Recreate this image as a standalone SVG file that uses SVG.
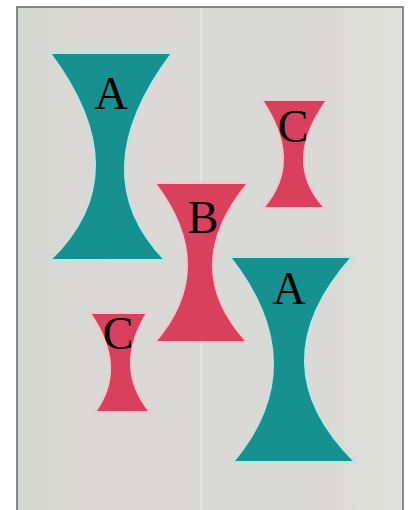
<svg xmlns="http://www.w3.org/2000/svg" width="409" height="510" viewBox="0 0 409 510">
  <defs>
    <linearGradient id="fabric" x1="0" y1="0" x2="1" y2="0">
      <stop offset="0" stop-color="#d6d8d2"/>
      <stop offset="0.3" stop-color="#dcd8d6"/>
      <stop offset="0.5" stop-color="#d9dad5"/>
      <stop offset="0.8" stop-color="#dad9d5"/>
      <stop offset="1" stop-color="#e0e1dc"/>
    </linearGradient>
  </defs>
  <style>
    .teal { fill: #17918f; stroke: #bfe3e3; stroke-width: 2; }
    .red { fill: #d8405d; stroke: #f0c8cf; stroke-width: 2; }
    .lbl { font-family: "Liberation Serif", "Times New Roman", serif; font-size: 46px; fill: #000; text-anchor: middle; }
  </style>
  <rect x="0" y="0" width="409" height="510" fill="#ffffff"/>
  <rect x="17" y="7" width="386" height="503" fill="url(#fabric)"/>
  <line x1="201" y1="8" x2="201" y2="510" stroke="#e6e8e3" stroke-width="1.5"/>
  <polyline points="17,510 17,7 403,7 403,510" fill="none" stroke="#666" stroke-width="1.5"/>

  <g id="nodeA1">
    <path class="teal" d="M50,53 L172,53 Q81.5,173.5 165,260 L50,260 Q140,173.5 50,53 Z"/>
    <text class="lbl" x="111" y="109">A</text>
  </g>
  <g id="nodeC1">
    <path class="red" d="M262,100 L327,100 Q282,162 325,208 L263,208 Q303.5,162 262,100 Z"/>
    <text class="lbl" x="293" y="142">C</text>
  </g>
  <g id="nodeB">
    <path class="red" d="M155,183 L248,183 Q178.5,267.5 247,342 L155,342 Q219,267.5 155,183 Z"/>
    <text class="lbl" x="203" y="233">B</text>
  </g>
  <g id="nodeA2">
    <path class="teal" d="M230,257 L352,257 Q256.5,364.5 355,462 L233,462 Q314.5,364.5 230,257 Z"/>
    <text class="lbl" x="289" y="304">A</text>
  </g>
  <g id="nodeC2">
    <path class="red" d="M90,313 L147,313 Q113.5,367.5 150,412 L95,412 Q127.5,367.5 90,313 Z"/>
    <text class="lbl" x="118" y="349">C</text>
  </g>
  <g id="connectors"/>
</svg>
